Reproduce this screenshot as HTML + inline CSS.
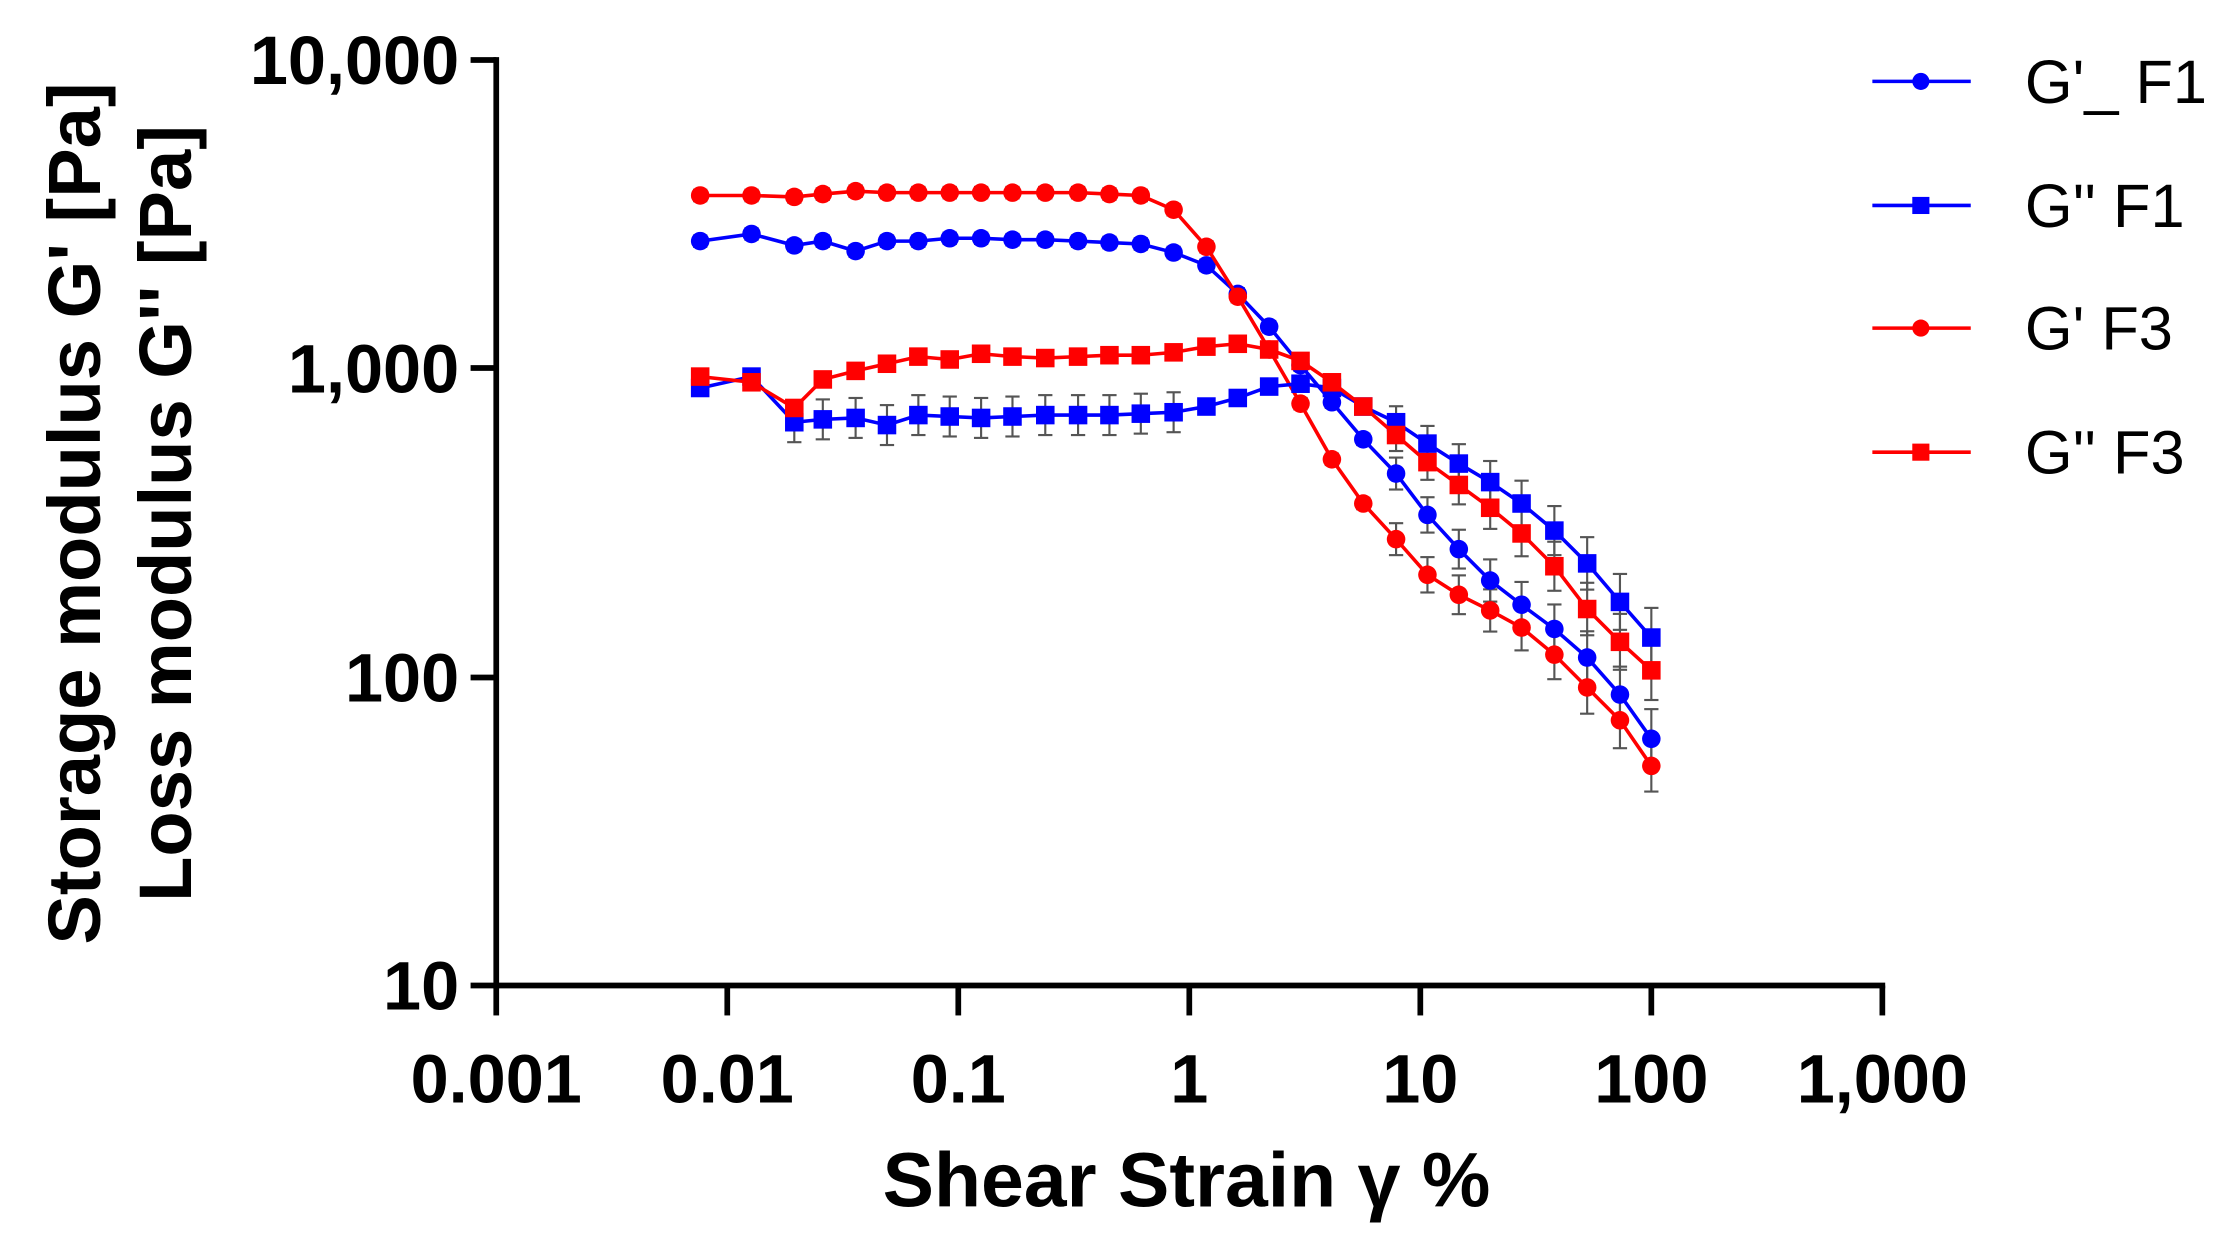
<!DOCTYPE html>
<html><head><meta charset="utf-8"><style>
html,body{margin:0;padding:0;background:#fff;}
svg{display:block;}
text{font-family:"Liberation Sans",Arial,sans-serif;}
</style></head><body>
<svg id="s" width="2236" height="1248" viewBox="0 0 1568 875" xmlns="http://www.w3.org/2000/svg">
<rect width="1568" height="875" fill="#fff"/>
<g stroke="#000" stroke-width="4" fill="none">
<line x1="348" y1="40" x2="348" y2="693"/>
<line x1="346" y1="691" x2="1322" y2="691"/>
<line x1="330" y1="42" x2="348" y2="42"/>
<line x1="330" y1="258" x2="348" y2="258"/>
<line x1="330" y1="475" x2="348" y2="475"/>
<line x1="330" y1="691" x2="348" y2="691"/>
<line x1="348" y1="691" x2="348" y2="712"/>
<line x1="510" y1="691" x2="510" y2="712"/>
<line x1="672" y1="691" x2="672" y2="712"/>
<line x1="834" y1="691" x2="834" y2="712"/>
<line x1="996" y1="691" x2="996" y2="712"/>
<line x1="1158" y1="691" x2="1158" y2="712"/>
<line x1="1320" y1="691" x2="1320" y2="712"/>
</g>
<g font-size="48" font-weight="bold" text-anchor="end" fill="#000">
<text x="322" y="59">10,000</text>
<text x="322" y="275">1,000</text>
<text x="322" y="492">100</text>
<text x="322" y="708">10</text>
</g>
<g font-size="48" font-weight="bold" text-anchor="middle" fill="#000">
<text x="348" y="773">0.001</text>
<text x="510" y="773">0.01</text>
<text x="672" y="773">0.1</text>
<text x="834" y="773">1</text>
<text x="996" y="773">10</text>
<text x="1158" y="773">100</text>
<text x="1320" y="773">1,000</text>
<text x="832" y="846" font-size="54">Shear Strain γ %</text>
<text transform="translate(70,360) rotate(-90)" font-size="52">Storage modulus G' [Pa]</text>
<text transform="translate(134,360) rotate(-90)" font-size="52">Loss modulus G'' [Pa]</text>
</g>
<g id="data"></g>
<g font-size="43" fill="#000">
<line x1="1313" y1="57" x2="1382" y2="57" stroke="#0000ff" stroke-width="2.5"/><circle cx="1347" cy="57" r="6" fill="#0000ff"/><text x="1420" y="72">G'_ F1</text>
<line x1="1313" y1="144" x2="1382" y2="144" stroke="#0000ff" stroke-width="2.5"/><rect x="1341" y="138" width="12" height="12" fill="#0000ff"/><text x="1420" y="159">G'' F1</text>
<line x1="1313" y1="230" x2="1382" y2="230" stroke="#ff0000" stroke-width="2.5"/><circle cx="1347" cy="230" r="6" fill="#ff0000"/><text x="1420" y="245">G' F3</text>
<line x1="1313" y1="317" x2="1382" y2="317" stroke="#ff0000" stroke-width="2.5"/><rect x="1341" y="311" width="12" height="12" fill="#ff0000"/><text x="1420" y="332">G'' F3</text>
</g>
</svg>
<script>
var X=[491,527,557,577,600,622,644,666,688,710,733,756,778,800,823,846,868,890,912,934,956,979,1001,1023,1045,1067,1090,1113,1136,1158];
var S=[
{c:"#0000ff",m:"c",y:[169,164,172,169,176,169,169,167,167,168,168,169,170,171,177,186,206,229,256,282,308,332,361,385,407,424,441,461,487,518]},
{c:"#ff0000",m:"c",y:[137,137,138,136,134,135,135,135,135,135,135,135,136,137,147,173,208,245,283,322,353,378,403,417,428,440,459,482,505,537]},
{c:"#0000ff",m:"s",y:[272,264,296,294,293,298,291,292,293,292,291,291,291,290,289,285,279,271,269,272,285,296,311,325,338,353,372,395,422,447]},
{c:"#ff0000",m:"s",y:[264,268,286,266,260,255,250,252,248,250,251,250,249,249,247,243,241,245,253,268,285,305,324,340,356,374,397,427,450,470]}
];
var g=document.getElementById("data"),h="";
S.forEach(function(s,k){s.y.forEach(function(y,i){var e=(i>=2&&i<15&&k==2)?14:(i>20?10+(i-20)*1.2:4);if(i==29&&k==1)e=18;h+='<g stroke="#555" stroke-width="1.5"><line x1="'+X[i]+'" y1="'+(y-e)+'" x2="'+X[i]+'" y2="'+(y+e)+'"/><line x1="'+(X[i]-5)+'" y1="'+(y-e)+'" x2="'+(X[i]+5)+'" y2="'+(y-e)+'"/><line x1="'+(X[i]-5)+'" y1="'+(y+e)+'" x2="'+(X[i]+5)+'" y2="'+(y+e)+'"/></g>';});});
S.forEach(function(s){var p=s.y.map(function(y,i){return X[i]+","+y}).join(" ");h+='<polyline points="'+p+'" fill="none" stroke="'+s.c+'" stroke-width="2.5"/>';
s.y.forEach(function(y,i){h+=s.m=="c"?'<circle cx="'+X[i]+'" cy="'+y+'" r="6.5" fill="'+s.c+'"/>':'<rect x="'+(X[i]-6.5)+'" y="'+(y-6.5)+'" width="13" height="13" fill="'+s.c+'"/>';});});
g.innerHTML=h;
</script>
</body></html>
